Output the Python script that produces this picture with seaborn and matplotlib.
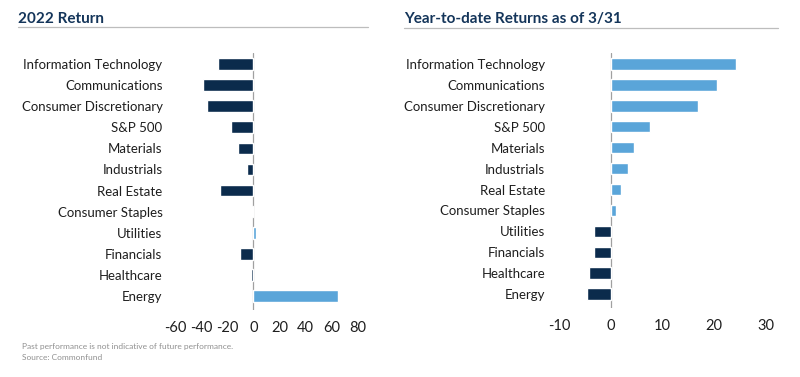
import numpy as np
import pandas as pd
import matplotlib
matplotlib.use("Agg")
import matplotlib.pyplot as plt
from matplotlib.lines import Line2D
import seaborn as sb

sb.set_style("white")
plt.rcParams["font.family"] = ["Lato", "DejaVu Sans"]
plt.rcParams["axes.unicode_minus"] = False

sectors = ["Information Technology", "Communications", "Consumer Discretionary",
           "S&P 500", "Materials", "Industrials", "Real Estate", "Consumer Staples",
           "Utilities", "Financials", "Healthcare", "Energy"]
ret_2022 = [-27.0, -38.5, -35.7, -17.5, -11.5, -5.0, -25.3, -0.8, 1.6, -10.0, -1.7, 64.5]
ret_ytd = [24.2, 20.6, 16.9, 7.6, 4.4, 3.3, 2.0, 1.0, -3.2, -3.3, -4.2, -4.5]

navy = "#0b2b4c"
blue = "#5aa5d9"
pal = {"pos": blue, "neg": navy}

fig = plt.figure(figsize=(8, 3.77), dpi=100)
ax1 = fig.add_axes([175/800, 1-310/377, 183/800, 257/377])
ax2 = fig.add_axes([559/800, 1-308/377, 207/800, 255/377])


def draw(ax, vals, xlim, ticks, pad):
    df = pd.DataFrame({"sector": sectors, "val": vals})
    df["sign"] = np.where(df["val"] >= 0, "pos", "neg")
    sb.barplot(data=df, x="val", y="sector", hue="sign", palette=pal, saturation=1,
               dodge=False, legend=False, width=0.55, ax=ax)
    ax.axvline(0, color="#a0a0a0", lw=0.9, zorder=0)
    ax.set_xlim(*xlim)
    ax.set_xticks(ticks)
    ax.set_ylim(11.66, -0.52)
    ax.set_xlabel("")
    ax.set_ylabel("")
    for s in ax.spines.values():
        s.set_visible(False)
    ax.tick_params(axis="y", length=0, pad=pad, labelsize=9.5, labelcolor="#1e1e1e")
    ax.tick_params(axis="x", length=0, pad=8, labelsize=10.5, labelcolor="#1e1e1e")


draw(ax1, ret_2022, (-60, 80), [-60, -40, -20, 0, 20, 40, 60, 80], 9)
draw(ax2, ret_ytd, (-10, 30), [-10, 0, 10, 20, 30], 10)

fig.text(18/800, 1-19/377, "2022 Return", fontsize=11, fontweight="bold",
         color="#14355a", va="center")
fig.text(404/800, 1-19/377, "Year-to-date Returns as of 3/31", fontsize=11,
         fontweight="bold", color="#14355a", va="center")
fig.add_artist(Line2D([18/800, 368/800], [1-27/377, 1-27/377], color="#bdbdbd", lw=0.9))
fig.add_artist(Line2D([404/800, 778/800], [1-28/377, 1-28/377], color="#bdbdbd", lw=0.9))

fig.text(22/800, 1-346/377, "Past performance is not indicative of future performance.",
         fontsize=6.0, color="#909090", va="center")
fig.text(22/800, 1-358/377, "Source: Commonfund", fontsize=6.0, color="#909090", va="center")

fig.savefig("out.png", dpi=100, facecolor="white")
